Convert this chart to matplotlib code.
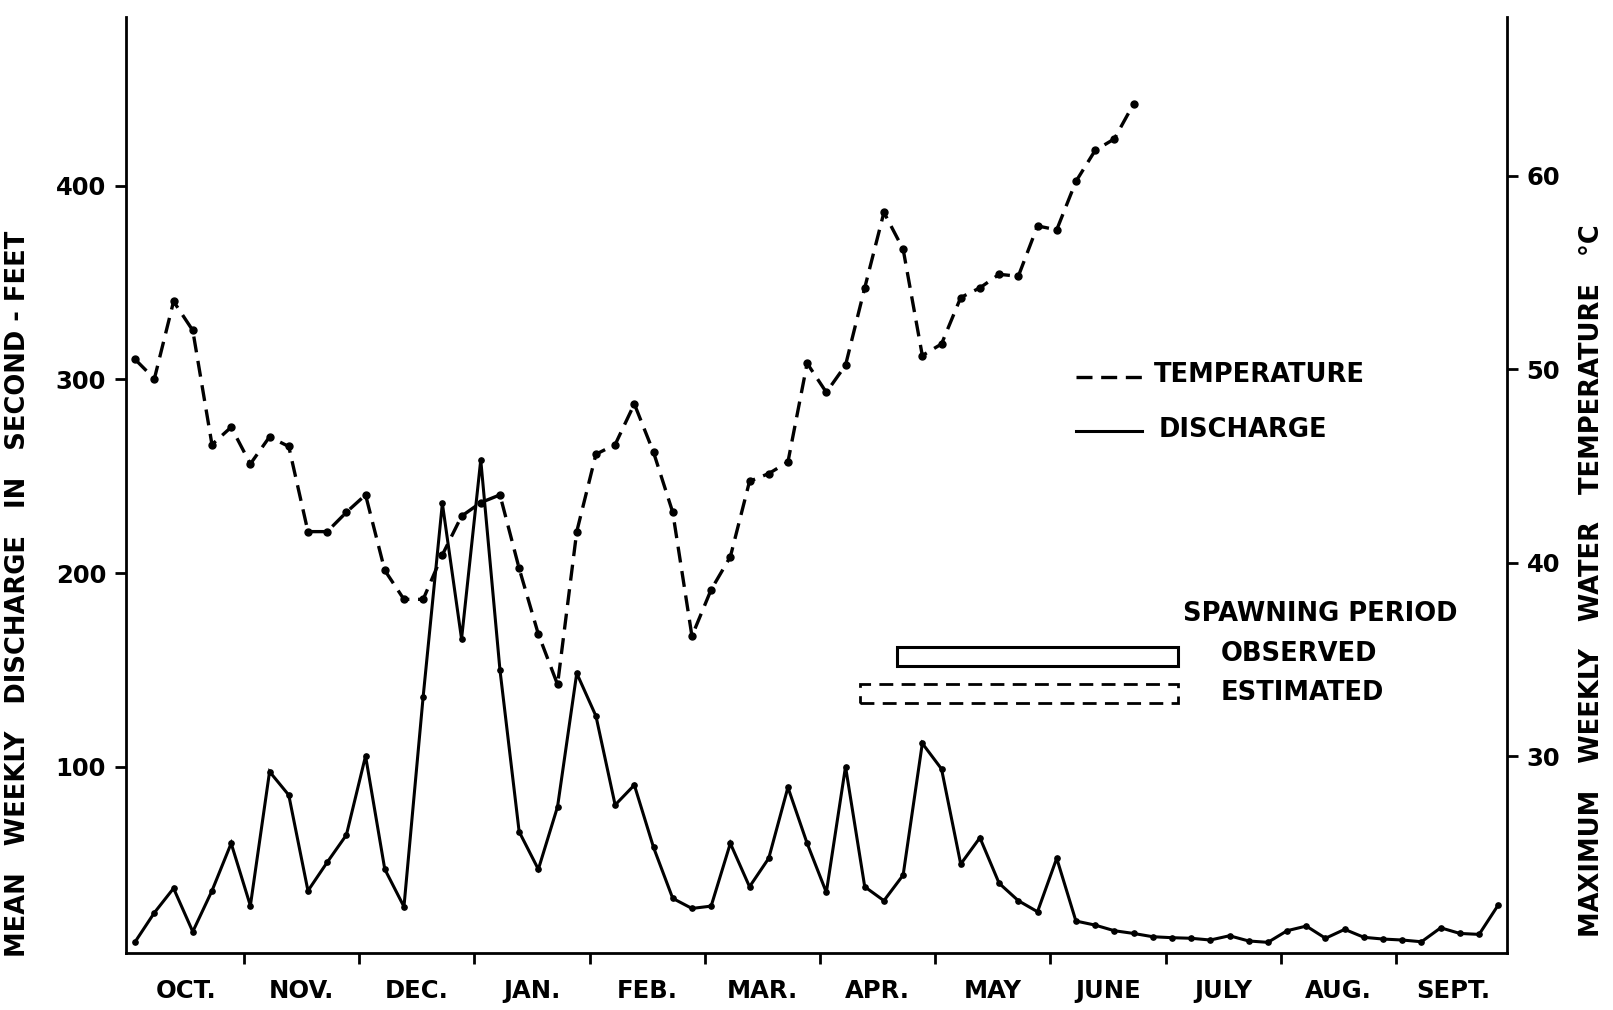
import numpy as np
import matplotlib
matplotlib.use("Agg")
import matplotlib.pyplot as plt
from matplotlib.patches import Rectangle
from matplotlib.lines import Line2D

plt.rcParams['font.family'] = ['DejaVu Sans']
plt.rcParams['font.weight'] = 'bold'

# ---------------- data ----------------
months = ["OCT.", "NOV.", "DEC.", "JAN.", "FEB.", "MAR.", "APR.", "MAY",
          "JUNE", "JULY", "AUG.", "SEPT."]

# mean discharge (second-feet), six readings per month, Oct -> Sept
discharge = [9.7, 24.7, 37.3, 14.9, 36.0, 60.5, 28.3, 97.5, 85.4, 36.0,
             50.7, 64.8, 105.6, 47.2, 27.8, 136.2, 236.0, 166.0, 258.4, 150.0,
             66.5, 47.1, 79.4, 148.3, 126.2, 80.3, 90.6, 58.4, 32.1, 26.9,
             28.1, 60.5, 38.1, 52.8, 89.4, 60.5, 35.2, 100.1, 38.1, 30.9,
             44.1, 112.1, 98.9, 49.8, 63.4, 39.9, 30.9, 25.2, 52.8, 20.4,
             18.3, 15.4, 14.0, 12.3, 11.8, 11.5, 10.6, 12.8, 10.1, 9.4,
             15.4, 17.8, 11.5, 16.1, 12.0, 11.1, 10.6, 9.7, 16.9, 14.0,
             13.5, 28.7]

# maximum water temperature (deg), Oct -> late June
temperature = [50.5, 49.5, 53.5, 52.0, 46.1, 47.0, 45.1, 46.5, 46.0, 41.6,
               41.6, 42.6, 43.5, 39.6, 38.1, 38.1, 40.4, 42.4, 43.1, 43.5,
               39.7, 36.3, 33.7, 41.6, 45.6, 46.1, 48.2, 45.7, 42.6, 36.2,
               38.6, 40.3, 44.2, 44.6, 45.2, 50.3, 48.8, 50.2, 54.2, 58.1,
               56.2, 50.7, 51.3, 53.7, 54.2, 54.9, 54.8, 57.4, 57.2, 59.7,
               61.3, 61.9, 63.7]

left_ticks = [100, 200, 300, 400]
right_ticks = [30, 40, 50, 60]

# spawning periods, in months after Oct 1 (start, end)
spawn_observed = (6.67, 9.11)
spawn_estimated = (6.35, 9.11)

# ---------------- figure ----------------
W, H = 1613, 1010
fig = plt.figure(figsize=(W / 100, H / 100), dpi=100)


def fx(x):
    return x / W


def fy(y):
    return 1 - y / H


ax = fig.add_axes([fx(125.5), fy(953), (1507 - 125.5) / W, (953 - 17) / H])
ax2 = ax.twinx()

xd = (np.arange(len(discharge)) + 0.33) / 6.0
xt = (np.arange(len(temperature)) + 0.33) / 6.0

ax.plot(xd, discharge, '-', color='black', lw=2.2, marker='o', ms=3.8,
        solid_joinstyle='miter')
ax2.plot(xt, temperature, color='black', lw=2.4, ls=(0, (4.8, 2.6)),
         marker='o', ms=5.0, dash_capstyle='butt')

ax.set_xlim(-0.029, 11.964)
ax.set_ylim(3.9, 487)
ax2.set_ylim(19.82, 68.2)

# spawning period boxes
so = Rectangle((spawn_observed[0], 152.2), spawn_observed[1] - spawn_observed[0],
               161.6 - 152.2, fill=False, lw=2.2, ec='black')
se = Rectangle((spawn_estimated[0], 132.8), spawn_estimated[1] - spawn_estimated[0],
               142.7 - 132.8, fill=False, lw=2.0, ec='black', ls=(0, (5, 3)))
ax.add_patch(so)
ax.add_patch(se)

# spines
for a in (ax, ax2):
    a.spines['top'].set_visible(False)
    for s in a.spines.values():
        s.set_linewidth(2.0)
ax.spines['right'].set_visible(False)
ax2.spines['left'].set_visible(False)
ax2.spines['bottom'].set_visible(False)

# x ticks: month boundaries, month names centred
ax.set_xticks(np.arange(1, 12))
ax.set_xticklabels([])
ax.set_xticks(np.arange(12) + 0.5, minor=True)
ax.set_xticklabels(months, minor=True, fontsize=17.5, fontweight='bold')
ax.tick_params(axis='x', which='major', direction='out', length=8, width=2.0)
ax.tick_params(axis='x', which='minor', length=0, pad=19)

ax.set_yticks(left_ticks)
ax.set_yticklabels([str(v) for v in left_ticks], fontsize=17.5, fontweight='bold')
ax.tick_params(axis='y', direction='out', length=8, width=2.0, pad=6)

ax2.set_yticks(right_ticks)
ax2.set_yticklabels([str(v) for v in right_ticks], fontsize=17.5, fontweight='bold')
ax2.tick_params(axis='y', direction='out', length=8, width=2.0, pad=6)

# axis titles
fig.text(fx(18.5), fy(594), "MEAN   WEEKLY   DISCHARGE   IN   SECOND - FEET",
         rotation=90, ha='center', va='center', fontsize=18.5, fontweight='bold')
fig.text(fx(1592), fy(581), "MAXIMUM   WEEKLY   WATER   TEMPERATURE   °C",
         rotation=90, ha='center', va='center', fontsize=18.5, fontweight='bold')

# legend
fig.add_artist(Line2D([fx(1076), fx(1142)], [fy(376.5), fy(376.5)], color='black',
                      lw=2.4, ls=(0, (4.8, 2.6))))
fig.add_artist(Line2D([fx(1076), fx(1142)], [fy(431), fy(431)], color='black', lw=2.2))
fig.text(fx(1154), fy(375.5), "TEMPERATURE", ha='left', va='center', fontsize=18.5,
         fontweight='bold')
fig.text(fx(1159), fy(430), "DISCHARGE", ha='left', va='center', fontsize=18.5,
         fontweight='bold')
fig.text(fx(1183), fy(614), "SPAWNING PERIOD", ha='left', va='center', fontsize=18.5,
         fontweight='bold')
fig.text(fx(1221), fy(654), "OBSERVED", ha='left', va='center', fontsize=18.5,
         fontweight='bold')
fig.text(fx(1221), fy(693), "ESTIMATED", ha='left', va='center', fontsize=18.5,
         fontweight='bold')

fig.savefig("out.png", dpi=100, facecolor='white')
